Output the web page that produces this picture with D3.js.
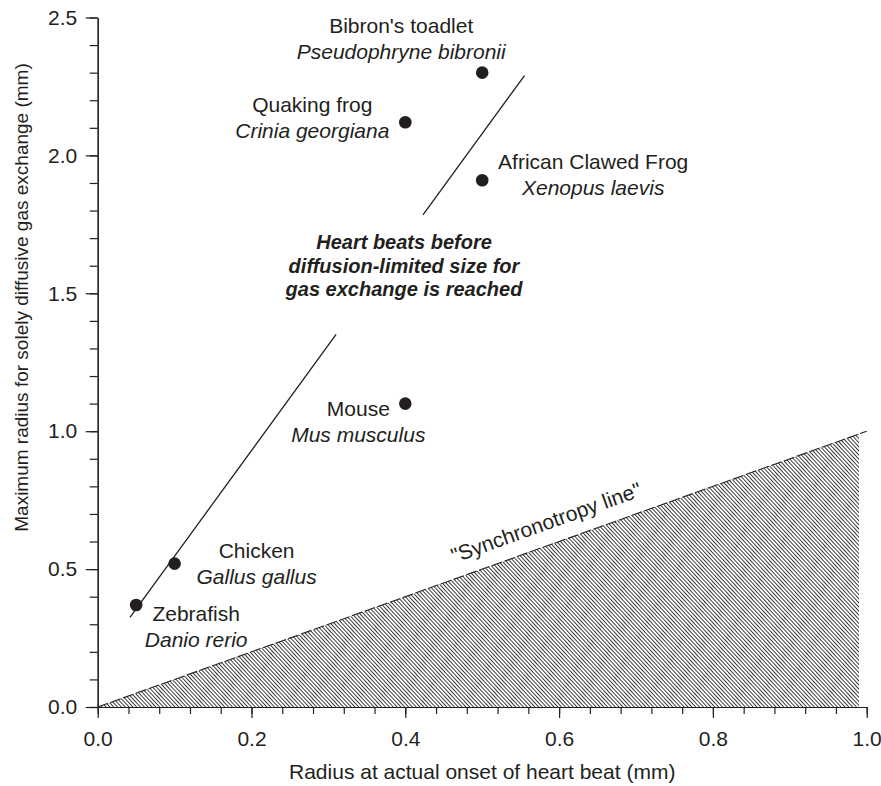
<!DOCTYPE html>
<html>
<head>
<meta charset="utf-8">
<script src="https://cdn.jsdelivr.net/npm/d3@7"></script>
<style>
body { margin: 0; background: #fff; }
text { font-family: "Liberation Sans", Arial, Helvetica, sans-serif; fill: #231f20; }
</style>
</head>
<body>
<svg id="chart" width="881" height="786"></svg>
<script>
// species data
var commonNames = ["Bibron's toadlet", "Quaking frog", "African Clawed Frog", "Mouse", "Chicken", "Zebrafish"];
var latinNames = ["Pseudophryne bibronii", "Crinia georgiana", "Xenopus laevis", "Mus musculus", "Gallus gallus", "Danio rerio"];
var onsetRadius = [0.5, 0.4, 0.5, 0.4, 0.1, 0.05];
var maxRadius = [2.30, 2.12, 1.91, 1.10, 0.52, 0.37];

// fitted line (y = slope*x + intercept), drawn in two pieces around the note
var fitSlope = 3.83;
var fitIntercept = 0.164;
var fitPieces = [[0.042, 0.31], [0.423, 0.555]];

// synchronotropy line and the shaded region under it
var syncLine = [[0, 0], [1, 1]];
var hatchArea = [[0, 0], [0.99, 0.99], [0.99, 0]];

// ticks
var xMajor = [0, 0.2, 0.4, 0.6, 0.8, 1.0];
var xMinor = d3.range(0, 26).map(i => i * 0.04);
var yMajor = [0, 0.5, 1.0, 1.5, 2.0, 2.5];
var yMinor = d3.range(0, 26).map(i => i * 0.1);

var noteLines = ["Heart beats before", "diffusion-limited size for", "gas exchange is reached"];

// label offsets from each dot, in pixels
var labelOffsets = [[-81, -40], [-93, -10], [111, -11], [-47, 12], [82, -6], [60, 16]];

var svg = d3.select("#chart");
var ink = "#231f20";

var x = d3.scaleLinear().domain([0, 1]).range([97.7, 866.7]);
var y = d3.scaleLinear().domain([0, 2.5]).range([707, 17.5]);

// hatch pattern
var defs = svg.append("defs");
var pat = defs.append("pattern")
    .attr("id", "hatch")
    .attr("patternUnits", "userSpaceOnUse")
    .attr("width", 8)
    .attr("height", 2.8)
    .attr("patternTransform", "rotate(47)");
pat.append("line")
    .attr("x1", 0).attr("x2", 8)
    .attr("y1", 1.4).attr("y2", 1.4)
    .attr("stroke", ink)
    .attr("stroke-width", 0.9);

svg.append("path")
    .attr("d", d3.line().x(d => x(d[0])).y(d => y(d[1]))(hatchArea) + "Z")
    .attr("fill", "url(#hatch)");

svg.append("path")
    .attr("d", d3.line().x(d => x(d[0])).y(d => y(d[1]))(syncLine))
    .attr("stroke", ink)
    .attr("stroke-width", 1.1)
    .attr("stroke-dasharray", "11,2.5")
    .attr("fill", "none");

// synchronotropy label
var ang = Math.atan2(y(0) - y(1), x(1) - x(0)) * 180 / Math.PI;
svg.append("text")
    .attr("transform", "translate(" + x(0.593) + "," + y(0.593) + ") rotate(" + (-ang) + ")")
    .attr("dy", -15)
    .attr("text-anchor", "middle")
    .style("font-size", "21px")
    .text("\"Synchronotropy line\"");

// axes
function drawAxis(axis, values, size, labels, tx, ty) {
    var g = svg.append("g").attr("transform", "translate(" + tx + "," + ty + ")")
        .call(axis.tickValues(values).tickSize(size).tickSizeOuter(0));
    g.selectAll("path, line").attr("stroke", ink).attr("stroke-width", 1.2);
    g.selectAll("text").style("font-size", "21px").attr("fill", ink).style("font-family", "Liberation Sans, Arial, sans-serif");
    if (!labels) g.selectAll("text").remove();
    return g;
}
drawAxis(d3.axisBottom(x).tickFormat(""), xMinor, 7, false, 0, y(0));
drawAxis(d3.axisBottom(x).tickFormat(d3.format(".1f")).tickPadding(13), xMajor, 11, true, 0, y(0));
drawAxis(d3.axisLeft(y).tickFormat(""), yMinor, 8, false, x(0), 0);
drawAxis(d3.axisLeft(y).tickFormat(d3.format(".1f")).tickPadding(8.4), yMajor, 12, true, x(0), 0);

// axis titles
svg.append("text")
    .attr("x", x(0.5)).attr("y", 779)
    .attr("text-anchor", "middle")
    .style("font-size", "21px")
    .text("Radius at actual onset of heart beat (mm)");
svg.append("text")
    .attr("transform", "translate(28,297.5) rotate(-90)")
    .attr("text-anchor", "middle")
    .style("font-size", "19px")
    .text("Maximum radius for solely diffusive gas exchange (mm)");

// fitted line
fitPieces.forEach(p => {
    svg.append("line")
        .attr("x1", x(p[0])).attr("y1", y(fitSlope * p[0] + fitIntercept))
        .attr("x2", x(p[1])).attr("y2", y(fitSlope * p[1] + fitIntercept))
        .attr("stroke", ink)
        .attr("stroke-width", 1.3);
});

// note
svg.append("text")
    .attr("x", 404).attr("y", 249.3)
    .attr("text-anchor", "middle")
    .style("font-size", "20px")
    .style("font-weight", "bold")
    .style("font-style", "italic")
    .selectAll("tspan")
    .data(noteLines)
    .join("tspan")
    .attr("x", 404)
    .attr("dy", (d, i) => i === 0 ? 0 : 23.5)
    .text(d => d);

// dots
svg.selectAll("circle.pt")
    .data(onsetRadius)
    .join("circle")
    .attr("class", "pt")
    .attr("cx", d => x(d))
    .attr("cy", (d, i) => y(maxRadius[i]))
    .attr("r", 6.3)
    .attr("fill", ink);

// species labels
commonNames.forEach((name, i) => {
    var px = x(onsetRadius[i]) + labelOffsets[i][0];
    var py = y(maxRadius[i]) + labelOffsets[i][1];
    svg.append("text")
        .attr("x", px).attr("y", py)
        .attr("text-anchor", "middle")
        .style("font-size", "21px")
        .text(name);
    svg.append("text")
        .attr("x", px).attr("y", py + 26)
        .attr("text-anchor", "middle")
        .style("font-size", "21px")
        .style("font-style", "italic")
        .text(latinNames[i]);
});
</script>
</body>
</html>
